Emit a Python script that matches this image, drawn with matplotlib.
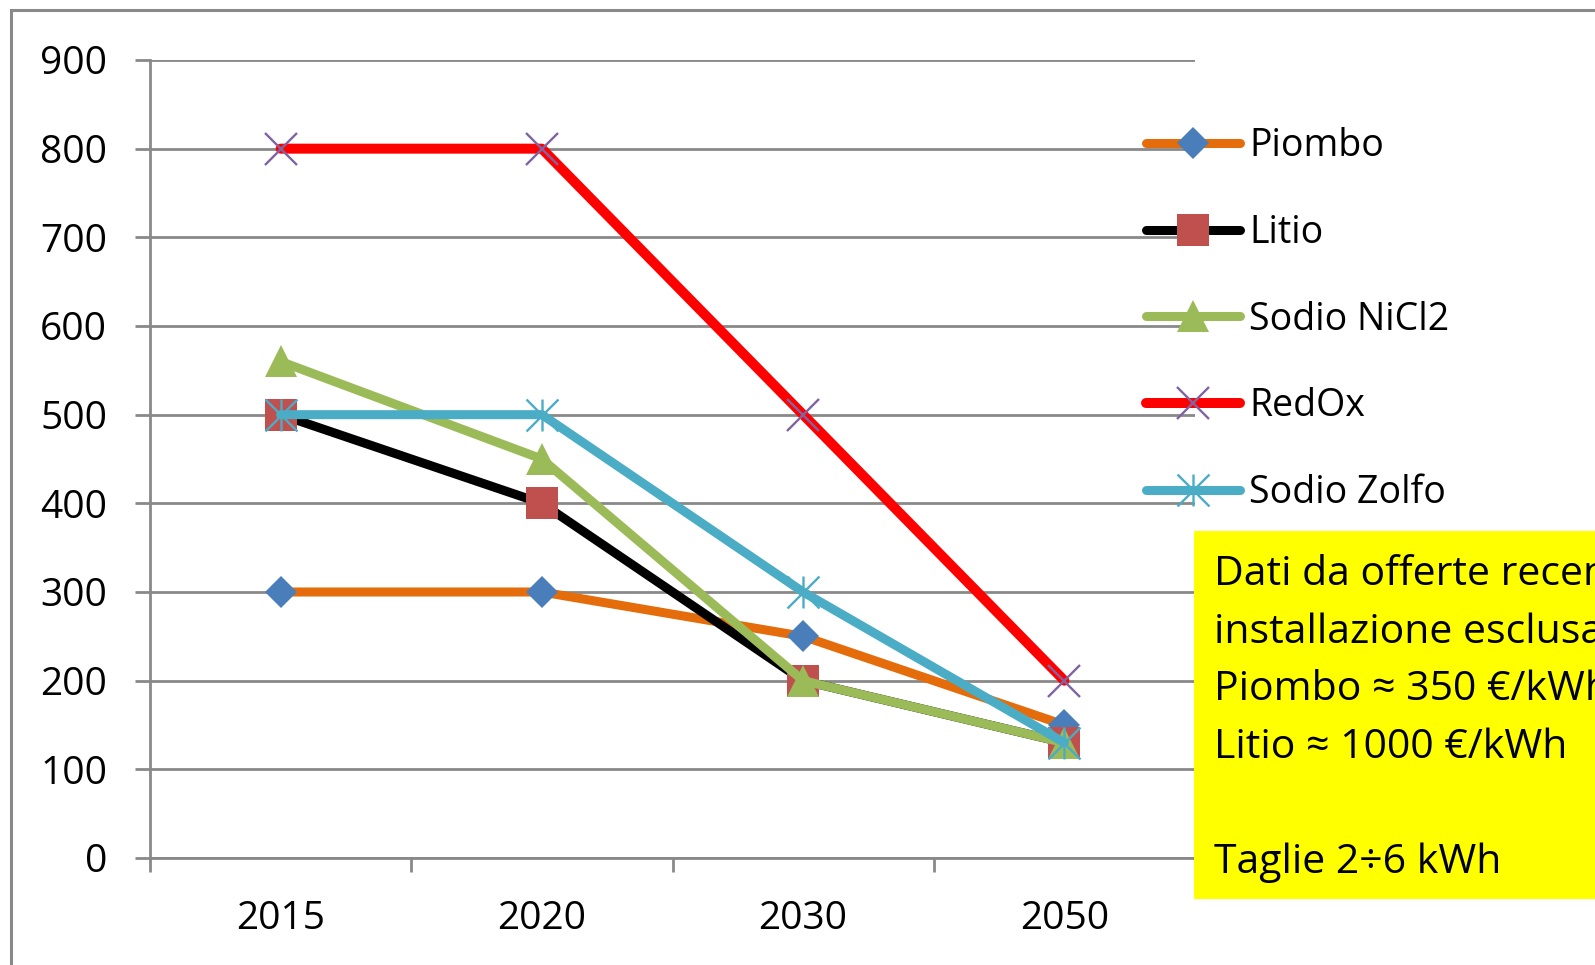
import matplotlib
matplotlib.use("Agg")
import matplotlib.pyplot as plt
from matplotlib.path import Path
from matplotlib.patches import Rectangle

plt.rcParams['font.family'] = ['Open Sans', 'DejaVu Sans']

# Data
years = ["2015", "2020", "2030", "2050"]
piombo = [300, 300, 250, 150]
litio = [500, 400, 200, 130]
sodio_nicl2 = [560, 450, 200, 130]
redox = [800, 800, 500, 200]
sodio_zolfo = [500, 500, 300, 130]
series_names = ["Piombo", "Litio", "Sodio NiCl2", "RedOx", "Sodio Zolfo"]
y_ticks = [0, 100, 200, 300, 400, 500, 600, 700, 800, 900]
note_lines = ["Dati da offerte recenti,", "installazione esclusa",
              "Piombo ≈ 350 €/kWh", "Litio ≈ 1000 €/kWh", "",
              "Taglie 2÷6 kWh"]

W, H, DPI = 1595, 965, 100
FS_TICK = 28
FS_LEG = 27
FS_NOTE = 29.5
GRID = "#898989"

# asterisk marker: vertical bar plus two diagonals
star_path = Path(
    [(0, -0.5), (0, 0.5), (-0.5, -0.5), (0.5, 0.5), (-0.5, 0.5), (0.5, -0.5)],
    [Path.MOVETO, Path.LINETO, Path.MOVETO, Path.LINETO, Path.MOVETO, Path.LINETO])

styles = [
    dict(color="#E46C0A", marker="D", ms=16.8, mfc="#4A7EBB", mec="#4A7EBB", mew=0, lw=6.5),
    dict(color="#000000", marker="s", ms=23.5, mfc="#C0504D", mec="#C0504D", mew=0, lw=6.5),
    dict(color="#9BBB59", marker="^", ms=23.5, mfc="#9BBB59", mec="#9BBB59", mew=0, lw=6.5),
    dict(color="#FF0000", marker="x", ms=23, mfc="#8064A2", mec="#8064A2", mew=1.7, lw=7.2),
    dict(color="#4BACC6", marker=star_path, ms=23, mfc="#4BACC6", mec="#4BACC6", mew=1.7, lw=6.5),
]
values = [piombo, litio, sodio_nicl2, redox, sodio_zolfo]

fig = plt.figure(figsize=(W / DPI, H / DPI), dpi=DPI)
fig.patch.set_facecolor("white")

# outer chart frame
fig.add_artist(Rectangle((11 / W, -0.05), 1.2, (H - 10) / H + 0.05, transform=fig.transFigure,
                         fill=False, edgecolor=GRID, lw=2.2, zorder=0))

ax = fig.add_axes([150 / W, 107 / H, 1045 / W, 798 / H])
ax.set_xlim(0, len(years))
ax.set_ylim(0, 900)
xpos = [i + 0.5 for i in range(len(years))]

handles = []
for i, (name, vals, st) in enumerate(zip(series_names, values, styles)):
    ln, = ax.plot(xpos, vals, color=st["color"], lw=st["lw"], marker=st["marker"],
                  ms=st["ms"], mfc=st["mfc"], mec=st["mec"], mew=st["mew"],
                  solid_capstyle="round", solid_joinstyle="round",
                  zorder=3 + i, clip_on=False, label=name)
    handles.append(ln)

# axes styling
for s in ["top", "right"]:
    ax.spines[s].set_visible(False)
for s in ["left", "bottom"]:
    ax.spines[s].set_color(GRID)
    ax.spines[s].set_linewidth(2.0)
ax.set_yticks(y_ticks)
ax.yaxis.grid(True, color=GRID, lw=2.0)
ax.set_axisbelow(True)
ax.tick_params(axis="y", length=10.8, width=2.0, color=GRID, pad=20, labelsize=FS_TICK)
ax.set_xticks(range(len(years) + 1))
ax.set_xticklabels([])
ax.tick_params(axis="x", which="major", length=10, width=2.0, color=GRID, direction="out")
ax.set_xticks(xpos, minor=True)
ax.set_xticklabels(years, minor=True)
ax.tick_params(axis="x", which="minor", length=0, pad=30, labelsize=FS_TICK)

leg = ax.legend(handles=handles, loc="upper left", bbox_to_anchor=(1146 / W, 1 - 127 / H),
                bbox_transform=fig.transFigure, frameon=False, fontsize=FS_LEG,
                handlelength=2.5, handletextpad=0.25, labelspacing=1.3,
                borderaxespad=0, borderpad=0)
leg.set_zorder(10)

# yellow note box
box = Rectangle((1194 / W, 1 - 899 / H), (W - 1194) / W + 0.01, (899 - 531) / H,
                transform=fig.transFigure, facecolor="#FFFF00", edgecolor="none", zorder=20)
fig.add_artist(box)
baselines = [585, 643, 700, 758, 815, 873]
for line, yb in zip(note_lines, baselines):
    if line:
        t = fig.text(1214 / W, 1 - yb / H, line, fontsize=FS_NOTE, va="baseline", ha="left",
                     color="black", zorder=21)
        t.set_clip_path(box)

fig.savefig("out.png", dpi=DPI)
